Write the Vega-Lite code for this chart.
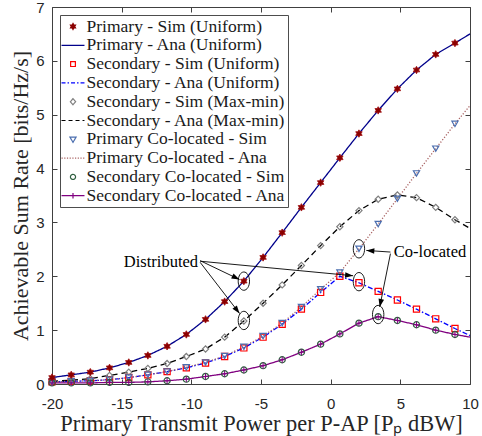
{
  "$schema": "https://vega.github.io/schema/vega-lite/v6.json",
  "width": 418,
  "height": 377,
  "autosize": {"type": "none"},
  "padding": {"left": 52, "top": 7, "right": 12, "bottom": 52},
  "background": "white",
  "config": {
    "view": {"stroke": null},
    "font": "Liberation Serif",
    "axis": {
      "grid": false,
      "domainColor": "#404040",
      "tickColor": "#404040",
      "domainWidth": 1,
      "tickWidth": 1,
      "tickSize": -5,
      "labelColor": "#262626",
      "labelFont": "Liberation Sans",
      "labelFontSize": 15,
      "titleFont": "Liberation Serif",
      "titleFontSize": 22,
      "titleFontWeight": "normal",
      "titleColor": "#262626",
      "titleAnchor": "middle",
      "titleAlign": "center"
    }
  },
  "datasets": {
    "sim": [
      {"s": "Primary - Sim (Uniform)", "x": -20, "y": 0.12},
      {"s": "Primary - Sim (Uniform)", "x": -18.62, "y": 0.17},
      {"s": "Primary - Sim (Uniform)", "x": -17.25, "y": 0.22},
      {"s": "Primary - Sim (Uniform)", "x": -15.87, "y": 0.30},
      {"s": "Primary - Sim (Uniform)", "x": -14.49, "y": 0.40},
      {"s": "Primary - Sim (Uniform)", "x": -13.12, "y": 0.53},
      {"s": "Primary - Sim (Uniform)", "x": -11.74, "y": 0.70},
      {"s": "Primary - Sim (Uniform)", "x": -10.36, "y": 0.92},
      {"s": "Primary - Sim (Uniform)", "x": -8.98, "y": 1.20},
      {"s": "Primary - Sim (Uniform)", "x": -7.61, "y": 1.53},
      {"s": "Primary - Sim (Uniform)", "x": -6.23, "y": 1.91},
      {"s": "Primary - Sim (Uniform)", "x": -4.85, "y": 2.35},
      {"s": "Primary - Sim (Uniform)", "x": -3.48, "y": 2.81},
      {"s": "Primary - Sim (Uniform)", "x": -2.1, "y": 3.28},
      {"s": "Primary - Sim (Uniform)", "x": -0.72, "y": 3.74},
      {"s": "Primary - Sim (Uniform)", "x": 0.66, "y": 4.20},
      {"s": "Primary - Sim (Uniform)", "x": 2.03, "y": 4.65},
      {"s": "Primary - Sim (Uniform)", "x": 3.41, "y": 5.08},
      {"s": "Primary - Sim (Uniform)", "x": 4.79, "y": 5.48},
      {"s": "Primary - Sim (Uniform)", "x": 6.16, "y": 5.83},
      {"s": "Primary - Sim (Uniform)", "x": 7.54, "y": 6.12},
      {"s": "Primary - Sim (Uniform)", "x": 8.92, "y": 6.33},
      {"s": "Secondary - Sim (Uniform)", "x": -20, "y": 0.04},
      {"s": "Secondary - Sim (Uniform)", "x": -18.62, "y": 0.05},
      {"s": "Secondary - Sim (Uniform)", "x": -17.25, "y": 0.06},
      {"s": "Secondary - Sim (Uniform)", "x": -15.87, "y": 0.08},
      {"s": "Secondary - Sim (Uniform)", "x": -14.49, "y": 0.12},
      {"s": "Secondary - Sim (Uniform)", "x": -13.12, "y": 0.17},
      {"s": "Secondary - Sim (Uniform)", "x": -11.74, "y": 0.23},
      {"s": "Secondary - Sim (Uniform)", "x": -10.36, "y": 0.30},
      {"s": "Secondary - Sim (Uniform)", "x": -8.98, "y": 0.39},
      {"s": "Secondary - Sim (Uniform)", "x": -7.61, "y": 0.51},
      {"s": "Secondary - Sim (Uniform)", "x": -6.23, "y": 0.67},
      {"s": "Secondary - Sim (Uniform)", "x": -4.85, "y": 0.87},
      {"s": "Secondary - Sim (Uniform)", "x": -3.48, "y": 1.11},
      {"s": "Secondary - Sim (Uniform)", "x": -2.1, "y": 1.39},
      {"s": "Secondary - Sim (Uniform)", "x": -0.72, "y": 1.70},
      {"s": "Secondary - Sim (Uniform)", "x": 0.66, "y": 2.00},
      {"s": "Secondary - Sim (Uniform)", "x": 2.03, "y": 1.88},
      {"s": "Secondary - Sim (Uniform)", "x": 3.41, "y": 1.72},
      {"s": "Secondary - Sim (Uniform)", "x": 4.79, "y": 1.56},
      {"s": "Secondary - Sim (Uniform)", "x": 6.16, "y": 1.39},
      {"s": "Secondary - Sim (Uniform)", "x": 7.54, "y": 1.21},
      {"s": "Secondary - Sim (Uniform)", "x": 8.92, "y": 1.03},
      {"s": "Secondary - Sim (Max-min)", "x": -20, "y": 0.05},
      {"s": "Secondary - Sim (Max-min)", "x": -18.62, "y": 0.07},
      {"s": "Secondary - Sim (Max-min)", "x": -17.25, "y": 0.10},
      {"s": "Secondary - Sim (Max-min)", "x": -15.87, "y": 0.16},
      {"s": "Secondary - Sim (Max-min)", "x": -14.49, "y": 0.22},
      {"s": "Secondary - Sim (Max-min)", "x": -13.12, "y": 0.29},
      {"s": "Secondary - Sim (Max-min)", "x": -11.74, "y": 0.38},
      {"s": "Secondary - Sim (Max-min)", "x": -10.36, "y": 0.51},
      {"s": "Secondary - Sim (Max-min)", "x": -8.98, "y": 0.65},
      {"s": "Secondary - Sim (Max-min)", "x": -7.61, "y": 0.87},
      {"s": "Secondary - Sim (Max-min)", "x": -6.23, "y": 1.17},
      {"s": "Secondary - Sim (Max-min)", "x": -4.85, "y": 1.50},
      {"s": "Secondary - Sim (Max-min)", "x": -3.48, "y": 1.84},
      {"s": "Secondary - Sim (Max-min)", "x": -2.1, "y": 2.20},
      {"s": "Secondary - Sim (Max-min)", "x": -0.72, "y": 2.57},
      {"s": "Secondary - Sim (Max-min)", "x": 0.66, "y": 2.92},
      {"s": "Secondary - Sim (Max-min)", "x": 2.03, "y": 3.22},
      {"s": "Secondary - Sim (Max-min)", "x": 3.41, "y": 3.43},
      {"s": "Secondary - Sim (Max-min)", "x": 4.79, "y": 3.51},
      {"s": "Secondary - Sim (Max-min)", "x": 6.16, "y": 3.46},
      {"s": "Secondary - Sim (Max-min)", "x": 7.54, "y": 3.28},
      {"s": "Secondary - Sim (Max-min)", "x": 8.92, "y": 3.05},
      {"s": "Primary Co-located - Sim", "x": -20, "y": 0.04},
      {"s": "Primary Co-located - Sim", "x": -18.62, "y": 0.05},
      {"s": "Primary Co-located - Sim", "x": -17.25, "y": 0.06},
      {"s": "Primary Co-located - Sim", "x": -15.87, "y": 0.08},
      {"s": "Primary Co-located - Sim", "x": -14.49, "y": 0.12},
      {"s": "Primary Co-located - Sim", "x": -13.12, "y": 0.17},
      {"s": "Primary Co-located - Sim", "x": -11.74, "y": 0.23},
      {"s": "Primary Co-located - Sim", "x": -10.36, "y": 0.31},
      {"s": "Primary Co-located - Sim", "x": -8.98, "y": 0.40},
      {"s": "Primary Co-located - Sim", "x": -7.61, "y": 0.52},
      {"s": "Primary Co-located - Sim", "x": -6.23, "y": 0.69},
      {"s": "Primary Co-located - Sim", "x": -4.85, "y": 0.89},
      {"s": "Primary Co-located - Sim", "x": -3.48, "y": 1.13},
      {"s": "Primary Co-located - Sim", "x": -2.1, "y": 1.43},
      {"s": "Primary Co-located - Sim", "x": -0.72, "y": 1.76},
      {"s": "Primary Co-located - Sim", "x": 0.66, "y": 2.07},
      {"s": "Primary Co-located - Sim", "x": 2.03, "y": 2.51},
      {"s": "Primary Co-located - Sim", "x": 3.41, "y": 2.97},
      {"s": "Primary Co-located - Sim", "x": 4.79, "y": 3.44},
      {"s": "Primary Co-located - Sim", "x": 6.16, "y": 3.91},
      {"s": "Primary Co-located - Sim", "x": 7.54, "y": 4.37},
      {"s": "Primary Co-located - Sim", "x": 8.92, "y": 4.83},
      {"s": "Secondary Co-located - Sim", "x": -20, "y": 0.02},
      {"s": "Secondary Co-located - Sim", "x": -18.62, "y": 0.02},
      {"s": "Secondary Co-located - Sim", "x": -17.25, "y": 0.02},
      {"s": "Secondary Co-located - Sim", "x": -15.87, "y": 0.03},
      {"s": "Secondary Co-located - Sim", "x": -14.49, "y": 0.03},
      {"s": "Secondary Co-located - Sim", "x": -13.12, "y": 0.04},
      {"s": "Secondary Co-located - Sim", "x": -11.74, "y": 0.06},
      {"s": "Secondary Co-located - Sim", "x": -10.36, "y": 0.09},
      {"s": "Secondary Co-located - Sim", "x": -8.98, "y": 0.14},
      {"s": "Secondary Co-located - Sim", "x": -7.61, "y": 0.19},
      {"s": "Secondary Co-located - Sim", "x": -6.23, "y": 0.26},
      {"s": "Secondary Co-located - Sim", "x": -4.85, "y": 0.34},
      {"s": "Secondary Co-located - Sim", "x": -3.48, "y": 0.45},
      {"s": "Secondary Co-located - Sim", "x": -2.1, "y": 0.59},
      {"s": "Secondary Co-located - Sim", "x": -0.72, "y": 0.74},
      {"s": "Secondary Co-located - Sim", "x": 0.66, "y": 0.93},
      {"s": "Secondary Co-located - Sim", "x": 2.03, "y": 1.13},
      {"s": "Secondary Co-located - Sim", "x": 3.41, "y": 1.25},
      {"s": "Secondary Co-located - Sim", "x": 4.79, "y": 1.18},
      {"s": "Secondary Co-located - Sim", "x": 6.16, "y": 1.10},
      {"s": "Secondary Co-located - Sim", "x": 7.54, "y": 1.00},
      {"s": "Secondary Co-located - Sim", "x": 8.92, "y": 0.92}
    ],
    "ana": [
      {"s": "Primary - Ana (Uniform)", "x": -20, "y": 0.12},
      {"s": "Primary - Ana (Uniform)", "x": -18.62, "y": 0.17},
      {"s": "Primary - Ana (Uniform)", "x": -17.25, "y": 0.22},
      {"s": "Primary - Ana (Uniform)", "x": -15.87, "y": 0.30},
      {"s": "Primary - Ana (Uniform)", "x": -14.49, "y": 0.40},
      {"s": "Primary - Ana (Uniform)", "x": -13.12, "y": 0.53},
      {"s": "Primary - Ana (Uniform)", "x": -11.74, "y": 0.70},
      {"s": "Primary - Ana (Uniform)", "x": -10.36, "y": 0.92},
      {"s": "Primary - Ana (Uniform)", "x": -8.98, "y": 1.20},
      {"s": "Primary - Ana (Uniform)", "x": -7.61, "y": 1.53},
      {"s": "Primary - Ana (Uniform)", "x": -6.23, "y": 1.91},
      {"s": "Primary - Ana (Uniform)", "x": -4.85, "y": 2.35},
      {"s": "Primary - Ana (Uniform)", "x": -3.48, "y": 2.81},
      {"s": "Primary - Ana (Uniform)", "x": -2.1, "y": 3.28},
      {"s": "Primary - Ana (Uniform)", "x": -0.72, "y": 3.74},
      {"s": "Primary - Ana (Uniform)", "x": 0.66, "y": 4.20},
      {"s": "Primary - Ana (Uniform)", "x": 2.03, "y": 4.65},
      {"s": "Primary - Ana (Uniform)", "x": 3.41, "y": 5.08},
      {"s": "Primary - Ana (Uniform)", "x": 4.79, "y": 5.48},
      {"s": "Primary - Ana (Uniform)", "x": 6.16, "y": 5.83},
      {"s": "Primary - Ana (Uniform)", "x": 7.54, "y": 6.12},
      {"s": "Primary - Ana (Uniform)", "x": 8.92, "y": 6.33},
      {"s": "Primary - Ana (Uniform)", "x": 10, "y": 6.50},
      {"s": "Secondary - Ana (Uniform)", "x": -20, "y": 0.04},
      {"s": "Secondary - Ana (Uniform)", "x": -18.62, "y": 0.05},
      {"s": "Secondary - Ana (Uniform)", "x": -17.25, "y": 0.06},
      {"s": "Secondary - Ana (Uniform)", "x": -15.87, "y": 0.08},
      {"s": "Secondary - Ana (Uniform)", "x": -14.49, "y": 0.12},
      {"s": "Secondary - Ana (Uniform)", "x": -13.12, "y": 0.17},
      {"s": "Secondary - Ana (Uniform)", "x": -11.74, "y": 0.23},
      {"s": "Secondary - Ana (Uniform)", "x": -10.36, "y": 0.30},
      {"s": "Secondary - Ana (Uniform)", "x": -8.98, "y": 0.39},
      {"s": "Secondary - Ana (Uniform)", "x": -7.61, "y": 0.51},
      {"s": "Secondary - Ana (Uniform)", "x": -6.23, "y": 0.67},
      {"s": "Secondary - Ana (Uniform)", "x": -4.85, "y": 0.87},
      {"s": "Secondary - Ana (Uniform)", "x": -3.48, "y": 1.11},
      {"s": "Secondary - Ana (Uniform)", "x": -2.1, "y": 1.39},
      {"s": "Secondary - Ana (Uniform)", "x": -0.72, "y": 1.70},
      {"s": "Secondary - Ana (Uniform)", "x": 0.66, "y": 2.00},
      {"s": "Secondary - Ana (Uniform)", "x": 2.03, "y": 1.88},
      {"s": "Secondary - Ana (Uniform)", "x": 3.41, "y": 1.72},
      {"s": "Secondary - Ana (Uniform)", "x": 4.79, "y": 1.56},
      {"s": "Secondary - Ana (Uniform)", "x": 6.16, "y": 1.39},
      {"s": "Secondary - Ana (Uniform)", "x": 7.54, "y": 1.21},
      {"s": "Secondary - Ana (Uniform)", "x": 8.92, "y": 1.03},
      {"s": "Secondary - Ana (Uniform)", "x": 10, "y": 0.90},
      {"s": "Secondary - Ana (Max-min)", "x": -20, "y": 0.05},
      {"s": "Secondary - Ana (Max-min)", "x": -18.62, "y": 0.07},
      {"s": "Secondary - Ana (Max-min)", "x": -17.25, "y": 0.10},
      {"s": "Secondary - Ana (Max-min)", "x": -15.87, "y": 0.16},
      {"s": "Secondary - Ana (Max-min)", "x": -14.49, "y": 0.22},
      {"s": "Secondary - Ana (Max-min)", "x": -13.12, "y": 0.29},
      {"s": "Secondary - Ana (Max-min)", "x": -11.74, "y": 0.38},
      {"s": "Secondary - Ana (Max-min)", "x": -10.36, "y": 0.51},
      {"s": "Secondary - Ana (Max-min)", "x": -8.98, "y": 0.65},
      {"s": "Secondary - Ana (Max-min)", "x": -7.61, "y": 0.87},
      {"s": "Secondary - Ana (Max-min)", "x": -6.23, "y": 1.17},
      {"s": "Secondary - Ana (Max-min)", "x": -4.85, "y": 1.50},
      {"s": "Secondary - Ana (Max-min)", "x": -3.48, "y": 1.84},
      {"s": "Secondary - Ana (Max-min)", "x": -2.1, "y": 2.20},
      {"s": "Secondary - Ana (Max-min)", "x": -0.72, "y": 2.57},
      {"s": "Secondary - Ana (Max-min)", "x": 0.66, "y": 2.92},
      {"s": "Secondary - Ana (Max-min)", "x": 2.03, "y": 3.22},
      {"s": "Secondary - Ana (Max-min)", "x": 3.41, "y": 3.43},
      {"s": "Secondary - Ana (Max-min)", "x": 4.79, "y": 3.51},
      {"s": "Secondary - Ana (Max-min)", "x": 6.16, "y": 3.46},
      {"s": "Secondary - Ana (Max-min)", "x": 7.54, "y": 3.28},
      {"s": "Secondary - Ana (Max-min)", "x": 8.92, "y": 3.05},
      {"s": "Secondary - Ana (Max-min)", "x": 10, "y": 2.89},
      {"s": "Primary Co-located - Ana", "x": -20, "y": 0.04},
      {"s": "Primary Co-located - Ana", "x": -18.62, "y": 0.05},
      {"s": "Primary Co-located - Ana", "x": -17.25, "y": 0.06},
      {"s": "Primary Co-located - Ana", "x": -15.87, "y": 0.08},
      {"s": "Primary Co-located - Ana", "x": -14.49, "y": 0.12},
      {"s": "Primary Co-located - Ana", "x": -13.12, "y": 0.17},
      {"s": "Primary Co-located - Ana", "x": -11.74, "y": 0.23},
      {"s": "Primary Co-located - Ana", "x": -10.36, "y": 0.31},
      {"s": "Primary Co-located - Ana", "x": -8.98, "y": 0.40},
      {"s": "Primary Co-located - Ana", "x": -7.61, "y": 0.52},
      {"s": "Primary Co-located - Ana", "x": -6.23, "y": 0.69},
      {"s": "Primary Co-located - Ana", "x": -4.85, "y": 0.89},
      {"s": "Primary Co-located - Ana", "x": -3.48, "y": 1.13},
      {"s": "Primary Co-located - Ana", "x": -2.1, "y": 1.43},
      {"s": "Primary Co-located - Ana", "x": -0.72, "y": 1.76},
      {"s": "Primary Co-located - Ana", "x": 0.66, "y": 2.07},
      {"s": "Primary Co-located - Ana", "x": 2.03, "y": 2.51},
      {"s": "Primary Co-located - Ana", "x": 3.41, "y": 2.97},
      {"s": "Primary Co-located - Ana", "x": 4.79, "y": 3.44},
      {"s": "Primary Co-located - Ana", "x": 6.16, "y": 3.91},
      {"s": "Primary Co-located - Ana", "x": 7.54, "y": 4.37},
      {"s": "Primary Co-located - Ana", "x": 8.92, "y": 4.83},
      {"s": "Primary Co-located - Ana", "x": 10, "y": 5.17},
      {"s": "Secondary Co-located - Ana", "x": -20, "y": 0.02},
      {"s": "Secondary Co-located - Ana", "x": -18.62, "y": 0.02},
      {"s": "Secondary Co-located - Ana", "x": -17.25, "y": 0.02},
      {"s": "Secondary Co-located - Ana", "x": -15.87, "y": 0.03},
      {"s": "Secondary Co-located - Ana", "x": -14.49, "y": 0.03},
      {"s": "Secondary Co-located - Ana", "x": -13.12, "y": 0.04},
      {"s": "Secondary Co-located - Ana", "x": -11.74, "y": 0.06},
      {"s": "Secondary Co-located - Ana", "x": -10.36, "y": 0.09},
      {"s": "Secondary Co-located - Ana", "x": -8.98, "y": 0.14},
      {"s": "Secondary Co-located - Ana", "x": -7.61, "y": 0.19},
      {"s": "Secondary Co-located - Ana", "x": -6.23, "y": 0.26},
      {"s": "Secondary Co-located - Ana", "x": -4.85, "y": 0.34},
      {"s": "Secondary Co-located - Ana", "x": -3.48, "y": 0.45},
      {"s": "Secondary Co-located - Ana", "x": -2.1, "y": 0.59},
      {"s": "Secondary Co-located - Ana", "x": -0.72, "y": 0.74},
      {"s": "Secondary Co-located - Ana", "x": 0.66, "y": 0.93},
      {"s": "Secondary Co-located - Ana", "x": 2.03, "y": 1.13},
      {"s": "Secondary Co-located - Ana", "x": 3.41, "y": 1.25},
      {"s": "Secondary Co-located - Ana", "x": 4.79, "y": 1.18},
      {"s": "Secondary Co-located - Ana", "x": 6.16, "y": 1.10},
      {"s": "Secondary Co-located - Ana", "x": 7.54, "y": 1.00},
      {"s": "Secondary Co-located - Ana", "x": 8.92, "y": 0.92},
      {"s": "Secondary Co-located - Ana", "x": 10, "y": 0.87}
    ],
    "ellipses": [
      {"x": -6.23, "y": 1.91},
      {"x": -6.23, "y": 1.18},
      {"x": 2.03, "y": 1.90},
      {"x": 2.03, "y": 2.51},
      {"x": 3.41, "y": 1.29}
    ],
    "arrows": [
      {"x": -9.37, "y": 2.29, "x2": -6.54, "y2": 1.94},
      {"x": -9.37, "y": 2.26, "x2": -6.54, "y2": 1.31},
      {"x": -9.37, "y": 2.28, "x2": 1.61, "y2": 2.01},
      {"x": 4.29, "y": 2.45, "x2": 2.56, "y2": 2.48},
      {"x": 4.29, "y": 2.42, "x2": 3.52, "y2": 1.43}
    ],
    "labels": [
      {"x": -12.18, "y": 2.17, "text": "Distributed"},
      {"x": 7.13, "y": 2.35, "text": "Co-located"}
    ]
  },
  "layer": [
    {
      "data": {"name": "ana"},
      "mark": {"type": "line", "strokeWidth": 1.3},
      "encoding": {
        "x": {
          "field": "x", "type": "quantitative",
          "scale": {"domain": [-20, 10], "nice": false, "zero": false},
          "axis": {
            "orient": "bottom",
            "values": [-20, -15, -10, -5, 0, 5, 10],
            "labelExpr": "'' + datum.value",
            "labelFlush": false,
            "labelPadding": 17,
            "title": "Primary Transmit Power per P-AP [Pₚ dBW]",
            "titleFontSize": 22.4,
            "titlePadding": 1
          }
        },
        "y": {
          "field": "y", "type": "quantitative",
          "scale": {"domain": [0, 7], "nice": false},
          "axis": {
            "orient": "left",
            "values": [0, 1, 2, 3, 4, 5, 6, 7],
            "labelPadding": 13,
            "title": "Achievable Sum Rate [bits/Hz/s]",
            "titleFontSize": 22,
            "titlePadding": 3
          }
        },
        "color": {
          "field": "s", "type": "nominal",
          "scale": {
            "domain": ["Primary - Sim (Uniform)", "Primary - Ana (Uniform)", "Secondary - Sim (Uniform)", "Secondary - Ana (Uniform)", "Secondary - Sim (Max-min)", "Secondary - Ana (Max-min)", "Primary Co-located - Sim", "Primary Co-located - Ana", "Secondary Co-located - Sim", "Secondary Co-located - Ana"],
            "range": ["#8B0000", "#00008B", "#FF0000", "#0000FF", "#808080", "#000000", "#4B6EAF", "#A86262", "#2E5E3E", "#800080"]
          },
          "legend": {
            "orient": "none",
            "legendX": 8,
            "legendY": 8,
            "title": null,
            "strokeColor": "#4d4d4d",
            "fillColor": "white",
            "padding": 2,
            "labelFont": "Liberation Serif",
            "labelFontSize": 17.5,
            "labelColor": "#1a1a1a",
            "labelOffset": 4,
            "labelLimit": 400,
            "rowPadding": 0.8,
            "symbolSize": 289,
            "symbolOffset": 1.5,
            "symbolStrokeWidth": 1.2,
            "symbolType": "stroke",
            "encoding": {
              "symbols": {
                "shape": {"value": {"expr": "['M0,-0.35L0.1,-0.175L0.3,-0.175L0.2,0L0.3,0.175L0.1,0.175L0,0.35L-0.1,0.175L-0.3,0.175L-0.2,0L-0.3,-0.175L-0.1,-0.175Z','M-1.35,0L1.35,0','M-0.28,-0.28L0.28,-0.28L0.28,0.28L-0.28,0.28Z','M-1.35,0L1.35,0','M0,-0.36L0.31,0L0,0.36L-0.31,0Z','M-1.35,0L1.35,0','M-0.36,-0.26L0.36,-0.26L0,0.36Z','M-1.35,0L1.35,0','M-0.3,0A0.3,0.3 0 1,0 0.3,0A0.3,0.3 0 1,0 -0.3,0Z','M-1.35,0L1.35,0M0,-0.32L0,0.32M-0.32,0L0.32,0'][indexof(['Primary - Sim (Uniform)','Primary - Ana (Uniform)','Secondary - Sim (Uniform)','Secondary - Ana (Uniform)','Secondary - Sim (Max-min)','Secondary - Ana (Max-min)','Primary Co-located - Sim','Primary Co-located - Ana','Secondary Co-located - Sim','Secondary Co-located - Ana'], datum.value)]"}},
                "fill": {"value": {"expr": "datum.value === 'Primary - Sim (Uniform)' ? '#8B0000' : 'transparent'"}},
                "stroke": {"value": {"expr": "['#8B0000','#00008B','#FF0000','#0000FF','#808080','#000000','#4B6EAF','#A86262','#2E5E3E','#800080'][indexof(['Primary - Sim (Uniform)','Primary - Ana (Uniform)','Secondary - Sim (Uniform)','Secondary - Ana (Uniform)','Secondary - Sim (Max-min)','Secondary - Ana (Max-min)','Primary Co-located - Sim','Primary Co-located - Ana','Secondary Co-located - Sim','Secondary Co-located - Ana'], datum.value)]"}},
                "strokeDash": {"value": {"expr": "[[1,0],[1,0],[1,0],[4,2,1.5,2],[1,0],[4,3],[1,0],[1.2,1.5],[1,0],[1,0]][indexof(['Primary - Sim (Uniform)','Primary - Ana (Uniform)','Secondary - Sim (Uniform)','Secondary - Ana (Uniform)','Secondary - Sim (Max-min)','Secondary - Ana (Max-min)','Primary Co-located - Sim','Primary Co-located - Ana','Secondary Co-located - Sim','Secondary Co-located - Ana'], datum.value)]"}},
                "opacity": {"value": 1}
              }
            }
          }
        },
        "strokeDash": {
          "field": "s", "type": "nominal",
          "scale": {
            "domain": ["Primary - Ana (Uniform)", "Secondary - Ana (Uniform)", "Secondary - Ana (Max-min)", "Primary Co-located - Ana", "Secondary Co-located - Ana"],
            "range": [[1, 0], [5, 2, 1.5, 2], [6, 4], [1.2, 1.8], [1, 0]]
          },
          "legend": null
        }
      }
    },
    {
      "data": {"name": "sim"},
      "transform": [{"filter": "datum.s !== 'Primary - Sim (Uniform)'"}],
      "mark": {"type": "point", "filled": false, "strokeWidth": 1.2, "opacity": 1, "size": 38},
      "encoding": {
        "x": {"field": "x", "type": "quantitative", "axis": {"orient": "top", "values": [-20, -15, -10, -5, 0, 5, 10], "labels": false, "title": null}},
        "y": {"field": "y", "type": "quantitative", "axis": {"orient": "right", "values": [0, 1, 2, 3, 4, 5, 6, 7], "labels": false, "title": null}},
        "stroke": {
          "field": "s", "type": "nominal",
          "scale": {"domain": ["Secondary - Sim (Uniform)", "Secondary - Sim (Max-min)", "Primary Co-located - Sim", "Secondary Co-located - Sim"], "range": ["#FF0000", "#808080", "#4B6EAF", "#2E5E3E"]},
          "legend": null
        },
        "shape": {
          "field": "s", "type": "nominal",
          "scale": {"domain": ["Secondary - Sim (Uniform)", "Secondary - Sim (Max-min)", "Primary Co-located - Sim", "Secondary Co-located - Sim"], "range": ["square", "diamond", "triangle-down", "circle"]},
          "legend": null
        }
      }
    },
    {
      "data": {"name": "sim"},
      "transform": [{"filter": "datum.s === 'Primary - Sim (Uniform)'"}],
      "mark": {"type": "point", "shape": "M0,-1L0.29,-0.5L0.87,-0.5L0.58,0L0.87,0.5L0.29,0.5L0,1L-0.29,0.5L-0.87,0.5L-0.58,0L-0.87,-0.5L-0.29,-0.5Z", "filled": true, "color": "#8B0000", "stroke": "#A01010", "strokeWidth": 0.8, "opacity": 1, "size": 55},
      "encoding": {
        "x": {"field": "x", "type": "quantitative", "axis": null},
        "y": {"field": "y", "type": "quantitative", "axis": null}
      }
    },
    {
      "data": {"name": "sim"},
      "transform": [{"filter": "datum.s === 'Secondary Co-located - Sim'"}],
      "mark": {"type": "point", "shape": "M-1,0L1,0M0,-1L0,1", "filled": false, "color": "#800080", "strokeWidth": 1, "opacity": 1, "size": 36},
      "encoding": {
        "x": {"field": "x", "type": "quantitative", "axis": null},
        "y": {"field": "y", "type": "quantitative", "axis": null}
      }
    },
    {
      "data": {"name": "ellipses"},
      "mark": {"type": "point", "shape": "M0,-1A0.62,1 0 1,1 0,1A0.62,1 0 1,1 0,-1Z", "filled": false, "color": "#000000", "strokeWidth": 0.9, "opacity": 1, "size": 335},
      "encoding": {
        "x": {"field": "x", "type": "quantitative", "axis": null},
        "y": {"field": "y", "type": "quantitative", "axis": null}
      }
    },
    {
      "data": {"name": "arrows"},
      "mark": {"type": "rule", "color": "#000000", "strokeWidth": 0.9},
      "encoding": {
        "x": {"field": "x", "type": "quantitative", "axis": null},
        "y": {"field": "y", "type": "quantitative", "axis": null},
        "x2": {"field": "x2"},
        "y2": {"field": "y2"}
      }
    },
    {
      "data": {"name": "arrows"},
      "mark": {
        "type": "point", "shape": "M0,0L-0.35,1L0.35,1Z", "filled": true, "color": "#000000", "opacity": 1, "size": 256,
        "angle": {"expr": "90 + atan2(scale('y', datum.y2) - scale('y', datum.y), scale('x', datum.x2) - scale('x', datum.x)) * 180 / PI"}
      },
      "encoding": {
        "x": {"field": "x2", "type": "quantitative", "axis": null},
        "y": {"field": "y2", "type": "quantitative", "axis": null}
      }
    },
    {
      "data": {"name": "labels"},
      "mark": {"type": "text", "font": "Liberation Serif", "fontSize": 16.5, "color": "#000000", "align": "center", "baseline": "alphabetic"},
      "encoding": {
        "x": {"field": "x", "type": "quantitative", "axis": null},
        "y": {"field": "y", "type": "quantitative", "axis": null},
        "text": {"field": "text"}
      }
    }
  ],
  "resolve": {"axis": {"x": "independent", "y": "independent"}}
}
